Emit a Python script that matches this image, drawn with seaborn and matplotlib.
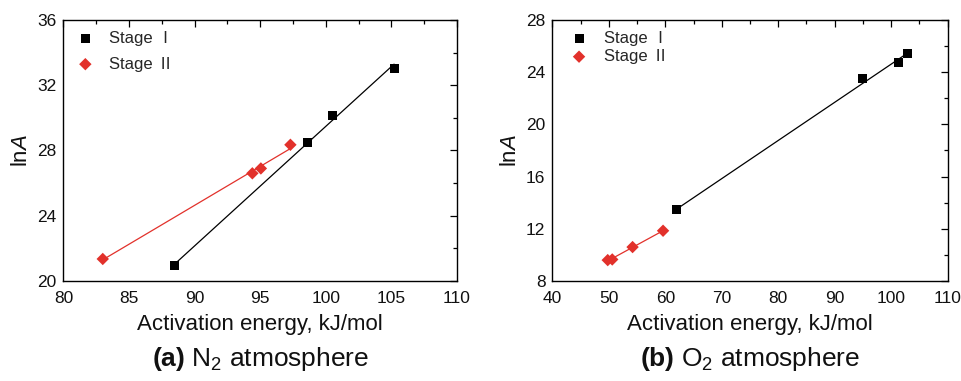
import matplotlib
matplotlib.use("Agg")
import matplotlib.pyplot as plt
from matplotlib.ticker import MultipleLocator
import seaborn as sns
import pandas as pd

# ---- data ----
n2_stage1_E = [88.5, 98.6, 100.5, 105.2]
n2_stage1_lnA = [20.95, 28.5, 30.15, 33.05]
n2_stage2_E = [83.0, 94.4, 95.05, 97.3]
n2_stage2_lnA = [21.35, 26.6, 26.9, 28.35]

o2_stage1_E = [62.0, 95.0, 101.3, 102.8]
o2_stage1_lnA = [13.45, 23.5, 24.75, 25.4]
o2_stage2_E = [49.8, 50.6, 54.2, 59.6]
o2_stage2_lnA = [9.6, 9.65, 10.6, 11.85]

stage_labels = ["Stage \u2160", "Stage \u2161"]
panel_titles = [r"$\mathbf{(a)}$ N$_2$ atmosphere", r"$\mathbf{(b)}$ O$_2$ atmosphere"]
xlabel = "Activation energy, kJ/mol"
ylabel = r"ln$\it{A}$"

sns.set_style("white")
plt.rcParams['font.family'] = ['Liberation Sans', 'Noto Sans CJK SC', 'DejaVu Sans']
plt.rcParams['mathtext.fontset'] = 'custom'
plt.rcParams['mathtext.rm'] = 'Liberation Sans'
plt.rcParams['mathtext.it'] = 'Liberation Sans:italic'
plt.rcParams['mathtext.bf'] = 'Liberation Sans:bold'

RED = '#e2312b'
fig = plt.figure(figsize=(9.62, 3.81), dpi=100)
ax1 = fig.add_axes([0.0659, 0.2625, 0.4092, 0.685])
ax2 = fig.add_axes([0.5742, 0.2625, 0.4109, 0.685])

panels = [
    (ax1, n2_stage1_E, n2_stage1_lnA, n2_stage2_E, n2_stage2_lnA, (80, 110), (20, 36), 5, 4),
    (ax2, o2_stage1_E, o2_stage1_lnA, o2_stage2_E, o2_stage2_lnA, (40, 110), (8, 28), 10, 4),
]

for i, (ax, x1, y1, x2, y2, xl, yl, xmaj, ymaj) in enumerate(panels):
    d1 = pd.DataFrame({"E": x1, "lnA": y1})
    d2 = pd.DataFrame({"E": x2, "lnA": y2})
    sns.regplot(data=d1, x="E", y="lnA", ax=ax, ci=None, color='black', marker='s',
                scatter_kws={'s': 42, 'edgecolor': 'none', 'zorder': 3, 'alpha': 1},
                line_kws={'linewidth': 0.9, 'zorder': 2})
    sns.regplot(data=d2, x="E", y="lnA", ax=ax, ci=None, color=RED, marker='D',
                scatter_kws={'s': 40, 'edgecolor': 'none', 'zorder': 3, 'alpha': 1},
                line_kws={'linewidth': 0.9, 'zorder': 2})
    ax.set_xlim(*xl)
    ax.set_ylim(*yl)
    ax.xaxis.set_major_locator(MultipleLocator(xmaj))
    ax.xaxis.set_minor_locator(MultipleLocator(xmaj / 2))
    ax.yaxis.set_major_locator(MultipleLocator(ymaj))
    ax.yaxis.set_minor_locator(MultipleLocator(ymaj / 2))
    ax.tick_params(which='both', direction='in', top=True, right=True, labelsize=12.5,
                   color='black', labelcolor='#111111', width=0.9)
    ax.tick_params(axis='x', which='both', pad=7)
    ax.tick_params(axis='y', which='both', pad=5)
    ax.tick_params(which='major', length=5)
    ax.tick_params(which='minor', length=3)
    for sp in ax.spines.values():
        sp.set_color('black')
        sp.set_linewidth(1.0)
    ax.set_xlabel(xlabel, fontsize=16, labelpad=6, color='#111111')
    ax.set_ylabel(ylabel, fontsize=16, labelpad=4, color='#111111')
    ax.text(0.5, -0.245, panel_titles[i], transform=ax.transAxes, ha='center', va='top',
            fontsize=19, color='#111111')
    ax.legend(handles=[ax.collections[0], ax.collections[1]], labels=stage_labels,
              loc='upper left', frameon=False, fontsize=12,
              labelspacing=0.65 if i == 0 else 0.2,
              handletextpad=0.6 if i == 0 else 0.7, borderaxespad=0.4, handlelength=1.6,
              bbox_to_anchor=(-0.012 if i == 0 else 0.0, 1.01))

fig.savefig("out.png", dpi=100)
